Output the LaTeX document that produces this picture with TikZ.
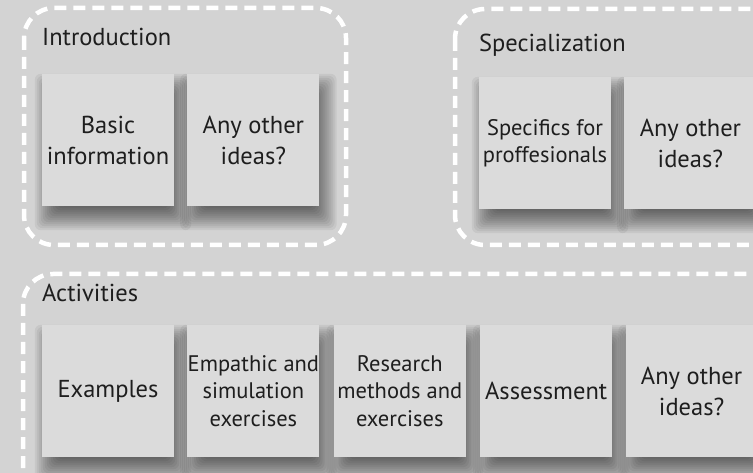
\documentclass[tikz,border=0pt]{standalone}
\usepackage{fontspec}
\setmainfont{PT Sans}
\usetikzlibrary{positioning,calc,backgrounds}
\definecolor{bggray}{RGB}{211,211,211}
\definecolor{boxgray}{RGB}{219,219,219}
\definecolor{txtgray}{RGB}{30,30,30}

\begin{document}
\begin{tikzpicture}[x=1pt,y=1pt,
  card/.style={fill=boxgray,minimum width=132pt,minimum height=132pt,inner sep=0pt,
    align=center,text=txtgray,font=\fontsize{24.5}{31}\selectfont},
  small/.style={font=\fontsize{22.5}{27.5}\selectfont},
  grp/.style={draw=white,line width=4.5pt,dash pattern=on 12pt off 7pt,rounded corners=30pt},
  grptitle/.style={anchor=base west,inner sep=0pt,text=txtgray,font=\fontsize{24.5}{30}\selectfont},
  shade/.style={fill=black,opacity=.055,rounded corners=6pt}]
\useasboundingbox (0,0) rectangle (753,-473);
\node[grptitle] (intro) at (42,-46) {Introduction};
\node[grptitle] (spec) at (479,-52) {Specialization};
\node[grptitle] (act) at (42,-302) {Activities};
\node[card] (basic) at (108,-140) {Basic\\information};
\node[card,right=13pt of basic] (ideasA) {Any other\\ideas?};
\node[card,small] (specifics) at (545,-143) {Specifics for\\proffesionals};
\node[card,right=13pt of specifics] (ideasB) {Any other\\ideas?};
\node[card] (examples) at (108,-391) {Examples};
\node[card,small,right=13pt of examples] (empathic) {Empathic and\\simulation\\exercises};
\node[card,small,right=14pt of empathic] (research) {Research\\methods and\\exercises};
\node[card,right=14pt of research] (assessment) {Assessment};
\node[card,right=13pt of assessment] (ideasC) {Any other\\ideas?};
\begin{scope}[on background layer]
\fill[bggray] (0,0) rectangle (753,-473);
\draw[grp] (24,-8) rectangle (346,-245);
\draw[grp] (455,-9) rectangle (800,-245);
\draw[grp] (23,-274) rectangle (800,-520);
\foreach \n in {basic,ideasA,specifics,ideasB,examples,empathic,research,assessment,ideasC}
  \foreach \r in {-12,-10,...,12}
    \fill[shade] ($(\n.south west)+({5-\r},{-12-\r})$) rectangle ($(\n.north east)+({5+\r},{-12+\r})$);
\end{scope}
\end{tikzpicture}
\end{document}
